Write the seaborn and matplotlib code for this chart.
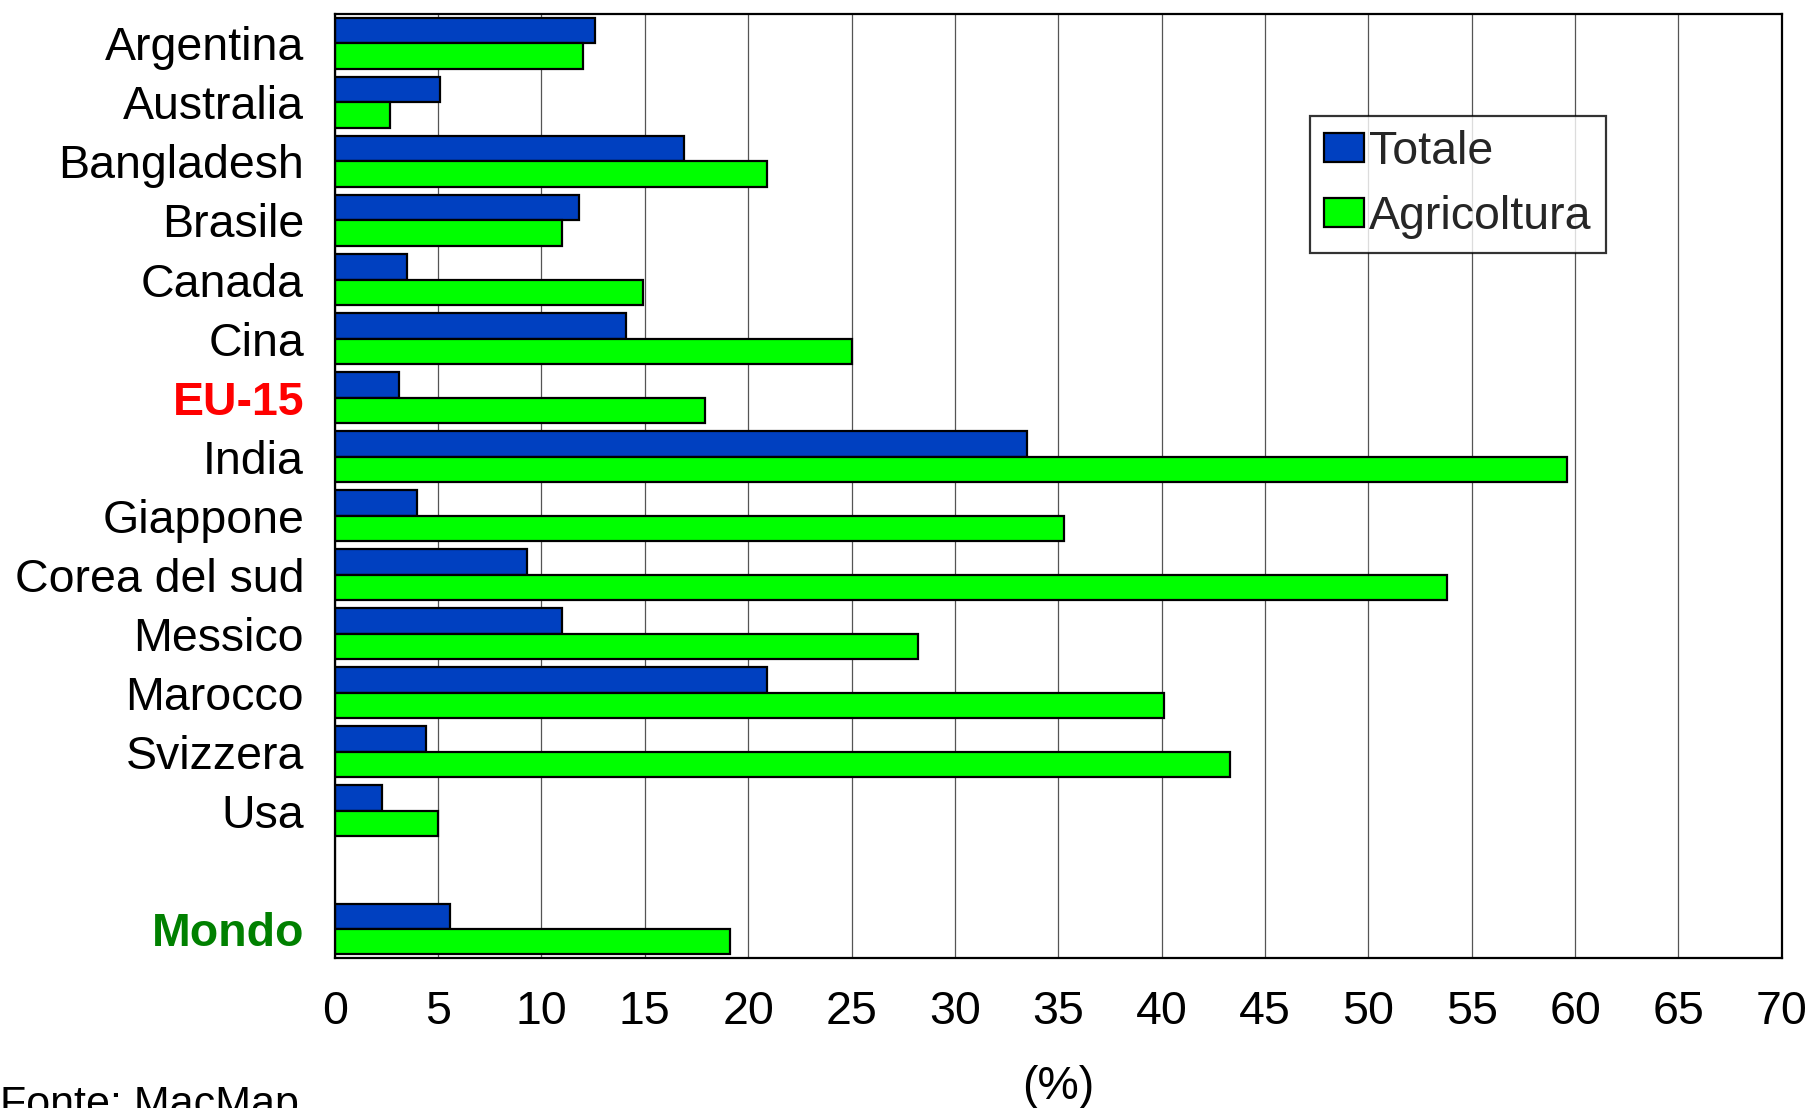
import matplotlib
matplotlib.use("Agg")
import matplotlib.pyplot as plt
import seaborn as sns
import pandas as pd
import numpy as np

countries = ["Argentina", "Australia", "Bangladesh", "Brasile", "Canada", "Cina",
             "EU-15", "India", "Giappone", "Corea del sud", "Messico", "Marocco",
             "Svizzera", "Usa", "Mondo"]
totale = [12.6, 5.1, 16.9, 11.8, 3.5, 14.1, 3.1, 33.5, 4.0, 9.3, 11.0, 20.9, 4.4, 2.3, 5.6]
agricoltura = [12.0, 2.7, 20.9, 11.0, 14.9, 25.0, 17.9, 59.6, 35.3, 53.8, 28.2, 40.1, 43.3, 5.0, 19.1]
series_names = ["Totale", "Agricoltura"]
xticks = list(range(0, 75, 5))

order = countries[:-1] + [" "] + countries[-1:]

df = pd.DataFrame({
    "paese": countries * 2,
    "valore": totale + agricoltura,
    "serie": [series_names[0]] * len(countries) + [series_names[1]] * len(countries),
})

sns.set_theme(style="white")
plt.rcParams["font.family"] = ["Liberation Sans", "DejaVu Sans"]

FS = 33.5

fig = plt.figure(figsize=(18.09, 11.08), dpi=100)
ax = fig.add_axes([0.185, 0.135, 0.80, 0.8525])

palette = {"Totale": "#0040C0", "Agricoltura": "#00FF00"}
sns.barplot(data=df, y="paese", x="valore", hue="serie", order=order,
            hue_order=series_names, palette=palette, orient="h",
            width=0.86, edgecolor="black", linewidth=1.6, saturation=1,
            ax=ax, legend=True)

ax.set_xlim(0, 70)
ax.set_xticks(xticks)
ax.set_xticklabels([str(t) for t in xticks])
ax.xaxis.grid(True, color="#555555", linewidth=0.9)
ax.yaxis.grid(False)
ax.set_axisbelow(True)
for s in ax.spines.values():
    s.set_visible(True)
    s.set_color("black")
    s.set_linewidth(1.6)

ax.tick_params(axis="both", length=0, labelsize=FS, colors="black")
ax.tick_params(axis="y", pad=22)
ax.tick_params(axis="x", pad=23)
ax.set_ylabel("")
ax.set_xlabel("(%)", fontsize=FS, labelpad=22, color="black")

for lbl in ax.get_yticklabels():
    t = lbl.get_text()
    if t == "EU-15":
        lbl.set_color("#FF0000")
        lbl.set_fontweight("bold")
    elif t == "Mondo":
        lbl.set_color("#008000")
        lbl.set_fontweight("bold")

leg = ax.legend(loc="upper left", bbox_to_anchor=(0.674, 0.892), fontsize=FS,
                frameon=True, fancybox=False, shadow=False, handlelength=0.85,
                handleheight=0.6, handletextpad=0.12, borderpad=0.3,
                labelspacing=0.45, borderaxespad=0)
leg.get_frame().set_edgecolor("black")
leg.get_frame().set_linewidth(1.6)
leg.set_title(None)
for h in leg.legend_handles:
    h.set_edgecolor("black")
    h.set_linewidth(1.6)

fig.text(0.0, 0.021, "Fonte: MacMap", fontsize=31, ha="left", va="top", color="black")

fig.savefig("out.png", dpi=100)
